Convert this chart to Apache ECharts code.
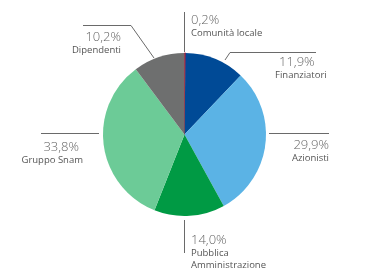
<!DOCTYPE html>
<html>
<head>
<meta charset="utf-8">
<script src="https://cdn.jsdelivr.net/npm/echarts@6/dist/echarts.min.js"></script>
<style>
html,body{margin:0;padding:0;background:#fff;}
#c{width:370px;height:270px;}
</style>
</head>
<body>
<div id="c"></div>
<script>
var categories = ['Comunità locale', 'Finanziatori', 'Azionisti', 'Pubblica\nAmministrazione', 'Gruppo Snam', 'Dipendenti'];
var values = [0.2, 11.9, 29.9, 14.0, 33.8, 10.2];
var colors = ['#c8102e', '#004a96', '#5bb3e5', '#009a44', '#6ccb97', '#6e6f6f'];

// label layout (styling only): anchor, alignment and leader line points
var layouts = [
  {x: 191, y: 27, align: 'left', pts: [[184.5, 52], [184.5, 30], [184.5, 12]], pk: 'p'},
  {x: 275, y: 69, align: 'left', pts: [[225, 60], [230, 52.5], [316, 52.5]], pk: 'pl'},
  {x: 329, y: 152, align: 'right', pts: [[269, 133.5], [300, 133.5], [329, 133.5]], pk: 'p'},
  {x: 191, y: 253, align: 'left', pts: [[184.5, 220], [184.5, 236], [184.5, 253]], pk: 'p'},
  {x: 83, y: 153.5, align: 'right', pts: [[99, 133.5], [70, 133.5], [41, 133.5]], pk: 'pr'},
  {x: 121, y: 44, align: 'right', pts: [[154, 58], [131, 25.5], [83, 25.5]], pk: 'p'}
];

var data = categories.map(function (c, i) {
  var d = {
    name: c,
    value: values[i],
    itemStyle: {color: colors[i]}
  };
  if (i === 0) { d.itemStyle.borderColor = colors[i]; d.itemStyle.borderWidth = 1; }
  return d;
});

var chart = echarts.init(document.getElementById('c'), null, {renderer: 'canvas'});
var pctStyle = {fontFamily: 'Open Sans', fontSize: 13, color: '#666', lineHeight: 13, fontWeight: 300};
chart.setOption({
  animation: false,
  series: [{
    type: 'pie',
    center: [184.5, 134.5],
    radius: 81.5,
    startAngle: 90,
    clockwise: true,
    data: data,
    emphasis: {disabled: true},
    label: {
      show: true,
      position: 'outside',
      formatter: function (p) {
        var lay = layouts[p.dataIndex];
        var pct = p.value.toFixed(1).replace('.', ',') + '%';
        var lines = p.name.split('\n').map(function (s) { return '{n|' + s + '}'; });
        return '{' + lay.pk + '|' + pct + '}\n' + lines.join('\n');
      },
      rich: {
        p: pctStyle,
        pl: Object.assign({}, pctStyle, {padding: [0, 0, 0, 4]}),
        pr: Object.assign({}, pctStyle, {padding: [0, 4, 0, 0]}),
        n: {fontFamily: 'Open Sans', fontSize: 9.5, color: '#555', lineHeight: 12.5}
      }
    },
    labelLine: {
      show: true,
      length: 10,
      length2: 10,
      lineStyle: {color: '#6a6a6a', width: 1}
    },
    labelLayout: function (params) {
      var lay = layouts[params.dataIndex];
      return {
        x: lay.x,
        y: lay.y,
        align: lay.align,
        verticalAlign: 'middle',
        labelLinePoints: lay.pts
      };
    }
  }]
});
</script>
</body>
</html>
